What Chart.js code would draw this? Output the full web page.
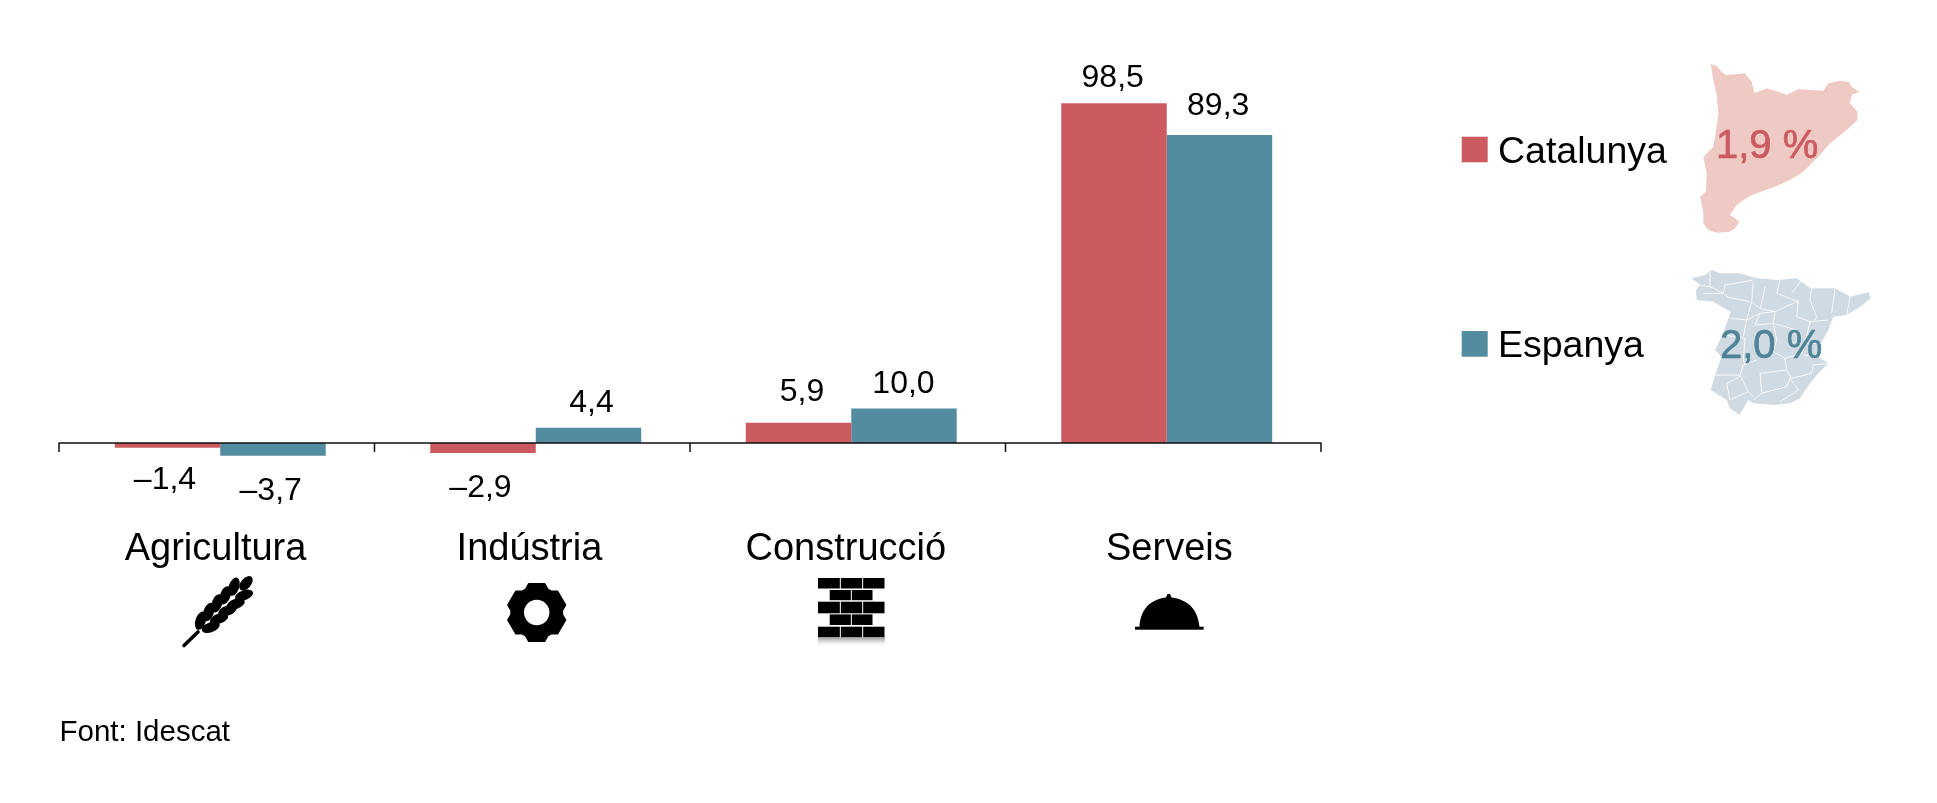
<!DOCTYPE html>
<html lang="ca">
<head>
<meta charset="utf-8">
<title>Catalunya i Espanya per sectors</title>
<style>html,body{margin:0;padding:0;background:#fff;overflow:hidden}canvas{display:block}</style>
<script src="https://cdn.jsdelivr.net/npm/chart.js@4/dist/chart.umd.min.js"></script>
</head>
<body>
<canvas id="c" width="1937" height="803"></canvas>
<script>
const categories = ['Agricultura', 'Indústria', 'Construcció', 'Serveis'];
const catalunya = [-1.4, -2.9, 5.9, 98.5];
const espanya = [-3.7, 4.4, 10.0, 89.3];
const seriesNames = ['Catalunya', 'Espanya'];
const totals = ['1,9 %', '2,0 %'];
const sourceText = 'Font: Idescat';

const RED = '#CB5B60', BLUE = '#538CA1', INK = '#000';
const FONT = '"Liberation Sans", Arial, sans-serif';
const AXIS_SHIFT = 3.5;

// Per-label nudges relative to the end of each bar [dx, dy to baseline]
const labelNudge = [
  [[-2.5, 41], [-2.5, 43.7], [3.5, -21.3], [-1.3, -16.3]],
  [[-2.3, 44], [3, -15.7], [-0.5, -15.6], [-1.3, -19.7]]
];
// Horizontal nudge of each category label relative to its category centre
const categoryNudge = [-4.7, -6.3, -5.4, 2.6];

const fmt = v => (v < 0 ? '–' : '') + Math.abs(v).toFixed(1).replace('.', ',');

// Decorative map outlines, in crop coordinates
const catOutline = [[872,72],[890,78],[905,95],[918,105],[945,103],[975,100],[995,125],[1003,160],[1040,145],[1075,155],[1100,165],[1135,148],[1175,150],[1210,152],[1225,130],[1260,122],[1285,125],[1295,140],[1318,155],[1295,165],[1290,190],[1312,215],[1312,240],[1290,262],[1265,282],[1230,310],[1195,350],[1150,395],[1110,420],[1065,440],[1010,460],[985,470],[950,495],[930,525],[945,535],[958,545],[945,565],[930,575],[890,578],[865,570],[850,550],[850,515],[840,470],[858,455],[860,400],[850,350],[880,320],[890,260],[895,220],[890,165],[880,120]];
const spOutline = [[5,55],[45,45],[65,30],[90,40],[150,40],[200,55],[265,60],[320,55],[360,85],[435,85],[480,110],[535,97],[543,115],[510,140],[470,165],[430,170],[415,210],[395,245],[385,290],[415,310],[385,340],[360,370],[330,415],[300,430],[250,435],[190,430],[175,420],[148,465],[120,445],[110,420],[62,390],[75,345],[95,290],[75,270],[100,220],[122,155],[70,125],[20,120],[18,90],[30,75]];
const spBorders = [
 [[60,35],[60,80],[100,100],[105,75],[190,60]],
 [[20,75],[60,80]],
 [[40,100],[100,100],[115,112],[180,125]],
 [[190,65],[185,125],[170,180],[160,230]],
 [[185,125],[210,145],[255,155],[310,130],[325,125]],
 [[225,80],[215,130],[210,145]],
 [[270,60],[260,100],[325,125],[320,170],[360,185]],
 [[335,60],[305,100]],
 [[365,85],[360,120],[380,170],[375,180]],
 [[435,85],[425,160]],
 [[480,110],[470,165]],
 [[120,175],[170,180],[210,160],[255,155],[250,190],[320,210],[330,235]],
 [[210,160],[195,195],[250,190]],
 [[100,225],[165,235],[160,300],[165,315]],
 [[250,190],[260,240],[250,275],[285,295],[290,330]],
 [[360,185],[415,180]],
 [[360,185],[345,250],[335,280],[285,295]],
 [[345,250],[400,250]],
 [[385,290],[340,285]],
 [[70,345],[150,345],[160,315],[200,300]],
 [[150,345],[175,395],[190,410]],
 [[210,340],[290,330],[305,355],[365,340],[370,315],[415,310]],
 [[210,340],[215,400],[190,420]],
 [[215,400],[290,380],[300,355]],
 [[110,370],[150,350]],
 [[110,370],[120,420],[175,395]],
 [[300,355],[325,390],[270,425]]
];

function poly(ctx, pts, ox, oy, s) {
  ctx.beginPath();
  pts.forEach((p, i) => { const x = ox + p[0] * s, y = oy + p[1] * s; i ? ctx.lineTo(x, y) : ctx.moveTo(x, y); });
}
function drawMaps(ctx) {
  ctx.save();
  ctx.fillStyle = '#EFCAC4';
  poly(ctx, catOutline, 1420, 40, 1/3); ctx.closePath(); ctx.fill();
  ctx.fillStyle = '#D0DAE2';
  poly(ctx, spOutline, 1690, 260, 1/3); ctx.closePath(); ctx.fill();
  ctx.strokeStyle = 'rgba(255,255,255,.9)'; ctx.lineWidth = 0.9; ctx.lineJoin = 'round';
  spBorders.forEach(b => { poly(ctx, b, 1690, 260, 1/3); ctx.stroke(); });
  ctx.restore();
}
function leaf(ctx, x, y, rx, ry, a) {
  ctx.beginPath(); ctx.ellipse(170 + x/3, 570 + y/3, rx, ry, a, 0, Math.PI*2); ctx.fill();
}
function drawWheat(ctx) {
  ctx.save();
  ctx.strokeStyle = '#000'; ctx.fillStyle = '#000'; ctx.lineWidth = 3.6; ctx.lineCap = 'round';
  ctx.beginPath(); ctx.moveTo(184, 645.5); ctx.lineTo(198, 632); ctx.stroke();
  [[92,152],[116,126],[141,100],[166,76],[192,50]].forEach(p => leaf(ctx, p[0], p[1], 9.5, 5.2, -1.25));
  [[122,172],[147,146],[172,122],[197,102],[222,76]].forEach(p => leaf(ctx, p[0], p[1], 9.5, 5, -0.35));
  leaf(ctx, 228, 40, 8.5, 5, -0.85);
  ctx.restore();
}
function drawGear(ctx) {
  const cx = 536.7, cy = 612.5, R = 29.5, r = 25.5, hole = 12.7, half = 0.3;
  ctx.save();
  ctx.fillStyle = '#000'; ctx.strokeStyle = '#000'; ctx.lineWidth = 2; ctx.lineJoin = 'round';
  ctx.beginPath();
  for (let i = 0; i < 6; i++) {
    const a = -Math.PI/2 + i*Math.PI/3;
    const pts = [[r, a-0.44],[R, a-half+0.03],[R, a+half-0.03],[r, a+0.44]];
    pts.forEach((p, k) => { const x = cx + p[0]*Math.cos(p[1]), y = cy + p[0]*Math.sin(p[1]); (i===0&&k===0) ? ctx.moveTo(x,y) : ctx.lineTo(x,y); });
  }
  ctx.closePath();
  ctx.stroke(); ctx.fill();
  ctx.fillStyle = '#fff';
  ctx.beginPath(); ctx.arc(cx, cy, hole, 0, Math.PI*2); ctx.fill();
  ctx.restore();
}
function drawBricks(ctx) {
  const rows = [[578,588.5],[590,600.2],[601.7,613.3],[614.4,625],[626.7,637.3]];
  ctx.save();
  rows.forEach((r, i) => {
    const wide = i % 2 === 0, x0 = wide ? 818 : 829.7, x1 = wide ? 885 : 873, n = wide ? 3 : 2;
    const w = (x1 - x0) / n;
    ctx.fillStyle = '#000';
    for (let k = 0; k < n; k++) ctx.fillRect(x0 + k*w + (k ? 0.5 : 0), r[0], w - (k ? 0.5 : 0) - 0.5, r[1]-r[0]);
  });
  const g = ctx.createLinearGradient(0, 637.5, 0, 647);
  g.addColorStop(0, 'rgba(120,120,120,.75)'); g.addColorStop(1, 'rgba(255,255,255,0)');
  ctx.fillStyle = g; ctx.fillRect(818, 637.5, 67, 9.5);
  ctx.restore();
}
function drawCloche(ctx) {
  ctx.save();
  ctx.fillStyle = '#000';
  ctx.fillRect(1135, 626.7, 68.6, 3);
  ctx.beginPath();
  ctx.moveTo(1139.5, 627);
  ctx.bezierCurveTo(1140.5, 611, 1148, 600, 1166, 597.5);
  ctx.lineTo(1167.5, 594); ctx.lineTo(1170, 594); ctx.lineTo(1171.5, 597.5);
  ctx.bezierCurveTo(1190, 600, 1198, 611, 1199.5, 627);
  ctx.closePath(); ctx.fill();
  ctx.restore();
}

const decorations = {
  id: 'decorations',
  afterDatasetsDraw(chart) {
    const ctx = chart.ctx, xs = chart.scales.x, ys = chart.scales.y;
    const y0 = ys.getPixelForValue(0);
    const step = (xs.right - xs.left) / categories.length;
    const left = xs.left - AXIS_SHIFT;

    // Axis line and category boundary ticks
    ctx.save();
    ctx.strokeStyle = '#111'; ctx.lineWidth = 1.5;
    ctx.beginPath();
    ctx.moveTo(left - 0.5, y0); ctx.lineTo(left + step*categories.length + 0.5, y0);
    for (let i = 0; i <= categories.length; i++) {
      const x = left + i*step;
      ctx.moveTo(x, y0); ctx.lineTo(x, y0 + 9);
    }
    ctx.stroke();
    ctx.restore();

    // Value labels
    ctx.save();
    ctx.fillStyle = INK; ctx.textAlign = 'center'; ctx.textBaseline = 'alphabetic';
    ctx.font = '32px ' + FONT;
    [catalunya, espanya].forEach((vals, s) => {
      const meta = chart.getDatasetMeta(s);
      vals.forEach((v, i) => {
        const bar = meta.data[i], n = labelNudge[s][i];
        ctx.fillText(fmt(v), bar.x + n[0], bar.y + n[1]);
      });
    });
    ctx.restore();

    drawMaps(ctx);
    drawWheat(ctx); drawGear(ctx); drawBricks(ctx); drawCloche(ctx);

    // Legend and totals
    ctx.save();
    ctx.textBaseline = 'alphabetic'; ctx.textAlign = 'left';
    ctx.fillStyle = RED; ctx.fillRect(1461.7, 136.7, 26, 25.6);
    ctx.fillStyle = BLUE; ctx.fillRect(1461.7, 331, 26, 25.7);
    ctx.fillStyle = INK; ctx.font = '37.5px ' + FONT;
    ctx.fillText(seriesNames[0], 1498, 162.7);
    ctx.fillText(seriesNames[1], 1498, 357);
    ctx.font = '40px ' + FONT; ctx.lineWidth = 0.7; ctx.lineJoin = 'round';
    ctx.fillStyle = ctx.strokeStyle = RED;
    ctx.fillText(totals[0], 1716, 157.7); ctx.strokeText(totals[0], 1716, 157.7);
    ctx.fillStyle = ctx.strokeStyle = '#4F8499';
    ctx.fillText(totals[1], 1720, 358); ctx.strokeText(totals[1], 1720, 358);
    ctx.fillStyle = INK; ctx.font = '29.5px ' + FONT;
    ctx.fillText(sourceText, 59.5, 741);
    ctx.restore();
  }
};

new Chart(document.getElementById('c').getContext('2d'), {
  type: 'bar',
  data: {
    labels: categories,
    datasets: [
      { label: seriesNames[0], data: catalunya, backgroundColor: RED, borderWidth: 0 },
      { label: seriesNames[1], data: espanya, backgroundColor: BLUE, borderWidth: 0 }
    ]
  },
  options: {
    responsive: false,
    animation: false,
    devicePixelRatio: 1,
    layout: { padding: { left: 62.5, right: 612.5, top: 63.5, bottom: 291 } },
    datasets: { bar: { barPercentage: 1, categoryPercentage: 0.672 } },
    plugins: { legend: { display: false }, tooltip: { enabled: false } },
    scales: {
      x: {
        position: { y: 0 },
        grid: { display: false, drawTicks: false },
        border: { display: false },
        ticks: {
          color: INK, font: { family: FONT, size: 38 }, padding: 84,
          maxRotation: 0, autoSkip: false
        },
        afterUpdate(scale) {
          const base = scale.getPixelForTick;
          scale.getPixelForTick = i => base.call(scale, i) + categoryNudge[i];
        }
      },
      y: { display: false, min: -20, max: 110 }
    }
  },
  plugins: [decorations]
});
</script>
</body>
</html>
